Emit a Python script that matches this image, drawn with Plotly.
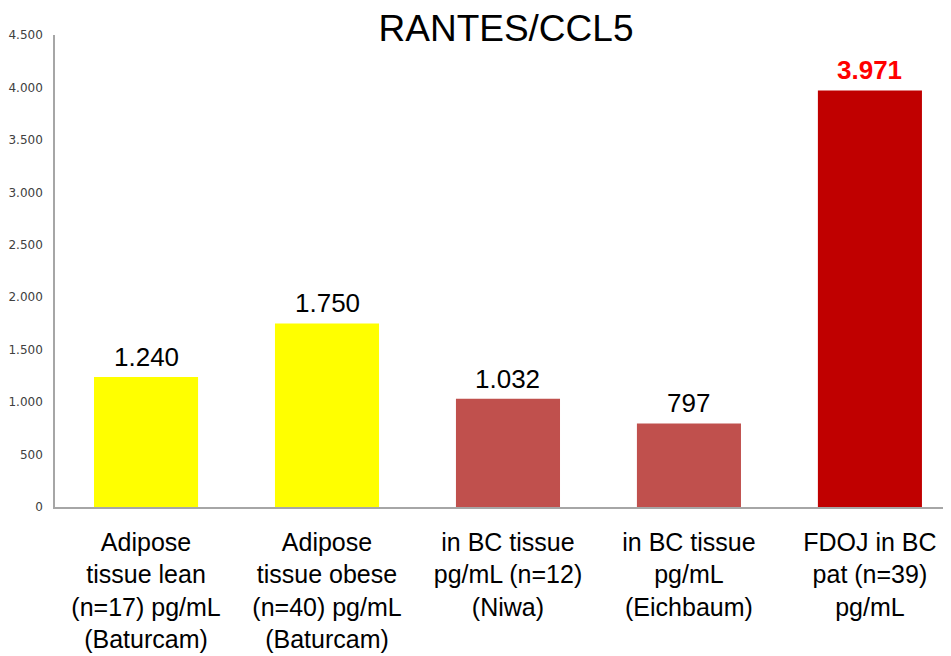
import plotly.graph_objects as go

categories = [
    "Adipose<br>tissue lean<br>(n=17) pg/mL<br>(Baturcam)",
    "Adipose<br>tissue obese<br>(n=40) pg/mL<br>(Baturcam)",
    "in BC tissue<br>pg/mL (n=12)<br>(Niwa)",
    "in BC tissue<br>pg/mL<br>(Eichbaum)",
    "FDOJ in BC<br>pat (n=39)<br>pg/mL",
]
values = [1240, 1750, 1032, 797, 3971]
bar_colors = ["#FFFF00", "#FFFF00", "#C0504D", "#C0504D", "#C00000"]
label_colors = ["#000000", "#000000", "#000000", "#000000", "#FF0000"]
label_bold = [False, False, False, False, True]
ytick_vals = [0, 500, 1000, 1500, 2000, 2500, 3000, 3500, 4000, 4500]

def fmt(v):
    return f"{v:,}".replace(",", ".")

# page body has an 8px default margin; the figure is sized to fit the window
W, H = 943, 648

fig = go.Figure()
fig.add_trace(go.Bar(
    x=list(range(len(categories))),
    y=values,
    marker=dict(color=bar_colors, line=dict(width=0)),
    width=0.575,
    hoverinfo="skip",
))

for i, (v, c, b) in enumerate(zip(values, label_colors, label_bold)):
    txt = fmt(v)
    if b:
        txt = f"<b>{txt}</b>"
    fig.add_annotation(
        x=i, y=v, xref="x", yref="y",
        text=txt, showarrow=False,
        yanchor="bottom", yshift=3,
        font=dict(family="Liberation Sans, Arial", size=26, color=c),
    )

fig.update_layout(
    width=W, height=H,
    margin=dict(l=47, r=0, t=27, b=149),
    paper_bgcolor="white", plot_bgcolor="white",
    showlegend=False,
    separators=",.",
    title=dict(
        text="RANTES/CCL5",
        font=dict(family="Liberation Sans, Arial", size=37, color="#000000"),
        x=498 / W, xanchor="center", xref="container",
        y=1 - 20 / H, yanchor="middle", yref="container",
    ),
    xaxis=dict(
        range=[-0.503, 4.448],
        tickvals=list(range(len(categories))),
        ticktext=categories,
        tickfont=dict(family="Liberation Sans, Arial", size=25, color="#000000"),
        showline=True, linecolor="#A6A6A6", linewidth=1.5,
        showgrid=False, ticks="", zeroline=False,
        tickangle=0,
        ticklabelstandoff=12,
        automargin=False,
    ),
    yaxis=dict(
        range=[0, 4500],
        tickvals=ytick_vals,
        ticktext=[fmt(v) for v in ytick_vals],
        tickfont=dict(family="DejaVu Sans, Verdana", size=12, color="#404040"),
        showline=True, linecolor="#A6A6A6", linewidth=1.5,
        showgrid=False, ticks="", zeroline=False,
        ticklabelstandoff=8,
        automargin=False,
    ),
)

fig.write_html("out.html")
